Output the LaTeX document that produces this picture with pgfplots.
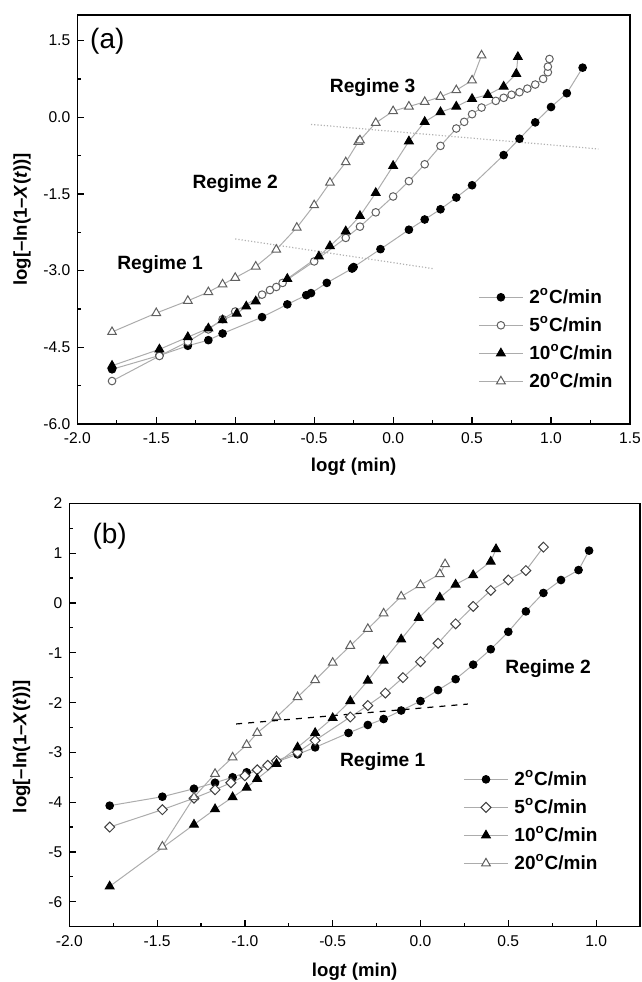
\documentclass[border=0pt]{standalone}
\usepackage{fontspec}
\setmainfont{Liberation Sans}
\usepackage{pgfplots}
\pgfplotsset{compat=1.18}

\tikzset{rg/.style={font=\fontsize{9.6}{11}\selectfont\bfseries}}
\pgfplotsset{
  panel/.style={
    scale only axis, anchor=north west,
    axis line style={line width=0.75pt},
    tick align=inside, xtick pos=bottom, ytick pos=left,
    major tick length=3.5pt, minor tick length=2pt,
    every tick/.style={black, line width=0.6pt},
    minor x tick num=1, minor y tick num=1,
    tick label style={font=\fontsize{7.8}{9}\selectfont},
    xticklabel style={yshift=-1pt},
    /pgf/number format/assume math mode=true,
    label style={font=\fontsize{9.3}{11}\selectfont\bfseries},
    xlabel={log\textit{t} (min)},
    ylabel={log[\textendash ln(1\textendash\textit{X}(\textit{t}))]},
    ylabel style={rotate=0, anchor=center},
    xlabel style={anchor=center},
    legend style={draw=none, fill=none, inner sep=0pt,
      font=\fontsize{9.5}{11}\selectfont\bfseries,
      nodes={text height=7pt, text depth=1pt, inner sep=3pt},
      cells={anchor=west}},
    legend image code/.code={\draw[mark repeat=2, mark phase=2]
      plot coordinates {(0pt,0pt) (11pt,0pt) (22pt,0pt)};},
    clip=false,
  },
  ln/.style={gray!65, line width=0.5pt},
  s2/.style={ln, mark=*, mark size=1.9pt, mark options={solid, line width=0.5pt, draw=black, fill=black}},
  s5a/.style={ln, mark=*, mark size=1.9pt, mark options={solid, line width=0.5pt, draw=gray!75!black, fill=white}},
  s5b/.style={ln, mark=square*, mark size=1.75pt, mark options={solid, rotate=45, line width=0.5pt, draw=black!75, fill=white}},
  s10/.style={ln, mark=triangle*, mark size=2.5pt, mark options={solid, line width=0.5pt, draw=black, fill=black}},
  s20/.style={ln, mark=triangle*, mark size=2.5pt, mark options={solid, line width=0.5pt, draw=gray!75!black, fill=white}},
}

\begin{document}
\begin{tikzpicture}
\useasboundingbox (0,0) rectangle (321pt,-491pt);

% panel (a)
\begin{axis}[panel,
  at={(38.65pt,-7.5pt)}, width=276.35pt, height=204.5pt,
  xmin=-2, xmax=1.5, ymin=-6, ymax=2,
  xtick={-2,-1.5,...,1.5}, ytick={-6,-4.5,...,1.5},
  xticklabel style={/pgf/number format/.cd, fixed, fixed zerofill, precision=1},
  yticklabel style={/pgf/number format/.cd, fixed, fixed zerofill, precision=1},
  xlabel style={at={(axis description cs:0.5,-0.104)}},
  ylabel style={at={(axis description cs:-0.1,0.5)}, rotate=0},
  legend style={at={(rel axis cs:0.725,0.345)}, anchor=north west},
]
\addplot[s2] coordinates {(-1.78,-4.93) (-1.48,-4.66) (-1.30,-4.47) (-1.17,-4.36) (-1.08,-4.23) (-0.83,-3.91) (-0.67,-3.66) (-0.55,-3.48) (-0.52,-3.44) (-0.42,-3.24) (-0.26,-2.96) (-0.25,-2.93) (-0.08,-2.58) (0.10,-2.20) (0.20,-2.00) (0.30,-1.80) (0.40,-1.57) (0.50,-1.33) (0.70,-0.74) (0.80,-0.42) (0.90,-0.10) (1.00,0.20) (1.10,0.47) (1.20,0.97)};
\addlegendentry{2\textsuperscript{o}C/min}
\addplot[s5a] coordinates {(-1.78,-5.16) (-1.48,-4.67) (-1.30,-4.39) (-1.17,-4.15) (-1.08,-3.95) (-1.00,-3.80) (-0.83,-3.47) (-0.78,-3.38) (-0.74,-3.32) (-0.70,-3.24) (-0.50,-2.82) (-0.30,-2.36) (-0.21,-2.14) (-0.11,-1.86) (0.00,-1.55) (0.10,-1.25) (0.20,-0.92) (0.30,-0.56) (0.40,-0.22) (0.45,-0.09) (0.50,0.06) (0.56,0.19) (0.65,0.32) (0.70,0.38) (0.75,0.44) (0.80,0.49) (0.85,0.56) (0.90,0.64) (0.95,0.75) (0.98,0.88) (0.98,0.99) (0.99,1.14)};
\addlegendentry{5\textsuperscript{o}C/min}
\addplot[s10] coordinates {(-1.78,-4.86) (-1.48,-4.54) (-1.30,-4.30) (-1.17,-4.13) (-1.08,-3.97) (-0.99,-3.84) (-0.93,-3.70) (-0.87,-3.60) (-0.67,-3.16) (-0.47,-2.72) (-0.40,-2.52) (-0.30,-2.23) (-0.21,-1.93) (-0.11,-1.48) (0.00,-0.95) (0.10,-0.47) (0.20,-0.09) (0.30,0.10) (0.40,0.21) (0.50,0.36) (0.60,0.44) (0.70,0.60) (0.78,0.85) (0.79,1.18)};
\addlegendentry{10\textsuperscript{o}C/min}
\addplot[s20] coordinates {(-1.78,-4.20) (-1.50,-3.83) (-1.30,-3.59) (-1.17,-3.42) (-1.08,-3.27) (-1.00,-3.14) (-0.87,-2.92) (-0.74,-2.59) (-0.61,-2.16) (-0.50,-1.72) (-0.40,-1.28) (-0.30,-0.88) (-0.22,-0.48) (-0.21,-0.45) (-0.11,-0.11) (0.00,0.12) (0.10,0.21) (0.20,0.30) (0.30,0.40) (0.40,0.53) (0.50,0.72) (0.56,1.21)};
\addlegendentry{20\textsuperscript{o}C/min}
\addplot[gray!60, densely dotted, line width=0.6pt, forget plot] coordinates {(-1.00,-2.38) (0.25,-2.96)};
\addplot[gray!60, densely dotted, line width=0.6pt, forget plot] coordinates {(-0.52,-0.14) (1.30,-0.62)};
\node[font=\fontsize{14}{16}\selectfont] at (axis cs:-1.81,1.49) {(a)};
\node[rg] at (axis cs:-0.13,0.585) {Regime 3};
\node[rg] at (axis cs:-1.00,-1.29) {Regime 2};
\node[rg] at (axis cs:-1.476,-2.88) {Regime 1};
\end{axis}

% panel (b)
\begin{axis}[panel,
  at={(34.65pt,-251.65pt)}, width=285.35pt, height=211.7pt,
  xmin=-2, xmax=1.25, ymin=-6.5, ymax=2,
  xtick={-2,-1.5,...,1}, ytick={-6,-5,...,2},
  xticklabel style={/pgf/number format/.cd, fixed, fixed zerofill, precision=1},
  xlabel style={at={(axis description cs:0.5,-0.106)}},
  ylabel style={at={(axis description cs:-0.0834,0.425)}, rotate=0},
  legend style={at={(rel axis cs:0.69,0.382)}, anchor=north west},
]
\addplot[s2] coordinates {(-1.77,-4.07) (-1.47,-3.89) (-1.29,-3.73) (-1.17,-3.61) (-1.07,-3.50) (-0.99,-3.40) (-0.70,-3.04) (-0.60,-2.90) (-0.41,-2.61) (-0.30,-2.45) (-0.21,-2.33) (-0.11,-2.16) (0.00,-1.97) (0.10,-1.75) (0.20,-1.53) (0.30,-1.24) (0.40,-0.93) (0.50,-0.58) (0.60,-0.17) (0.70,0.20) (0.80,0.46) (0.90,0.66) (0.96,1.05)};
\addlegendentry{2\textsuperscript{o}C/min}
\addplot[s5b] coordinates {(-1.77,-4.50) (-1.47,-4.15) (-1.29,-3.92) (-1.17,-3.75) (-1.08,-3.61) (-1.00,-3.47) (-0.93,-3.35) (-0.87,-3.26) (-0.82,-3.17) (-0.70,-3.00) (-0.60,-2.76) (-0.40,-2.29) (-0.30,-2.06) (-0.20,-1.81) (-0.10,-1.50) (0.00,-1.18) (0.10,-0.81) (0.20,-0.42) (0.30,-0.07) (0.40,0.25) (0.50,0.46) (0.60,0.65) (0.70,1.12)};
\addlegendentry{5\textsuperscript{o}C/min}
\addplot[s10] coordinates {(-1.77,-5.69) (-1.29,-4.45) (-1.17,-4.14) (-1.07,-3.90) (-0.99,-3.71) (-0.93,-3.53) (-0.82,-3.23) (-0.70,-2.90) (-0.60,-2.61) (-0.50,-2.31) (-0.40,-1.97) (-0.30,-1.56) (-0.21,-1.16) (-0.11,-0.73) (-0.01,-0.30) (0.11,0.11) (0.20,0.37) (0.30,0.56) (0.40,0.83) (0.43,1.08)};
\addlegendentry{10\textsuperscript{o}C/min}
\addplot[s20] coordinates {(-1.47,-4.89) (-1.29,-3.90) (-1.17,-3.43) (-1.07,-3.10) (-0.99,-2.85) (-0.93,-2.61) (-0.82,-2.29) (-0.70,-1.89) (-0.60,-1.55) (-0.50,-1.20) (-0.40,-0.86) (-0.30,-0.52) (-0.21,-0.21) (-0.11,0.13) (0.00,0.36) (0.11,0.58) (0.14,0.78)};
\addlegendentry{20\textsuperscript{o}C/min}
\addplot[black, dashed, line width=0.6pt, forget plot] coordinates {(-1.05,-2.43) (0.27,-2.03)};
\node[font=\fontsize{14}{16}\selectfont] at (axis cs:-1.77,1.33) {(b)};
\node[rg] at (axis cs:0.727,-1.324) {Regime 2};
\node[rg] at (axis cs:-0.215,-3.186) {Regime 1};
\end{axis}
\end{tikzpicture}
\end{document}
